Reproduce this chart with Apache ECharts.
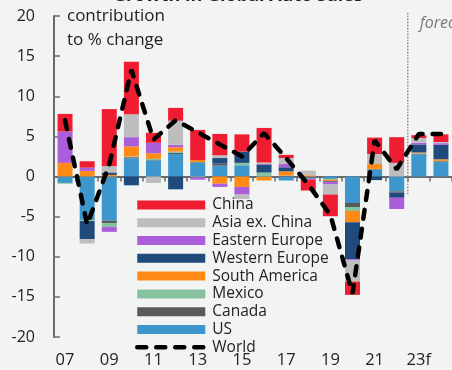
<!DOCTYPE html>
<html>
<head>
<meta charset="utf-8">
<script src="https://cdn.jsdelivr.net/npm/echarts@6/dist/echarts.min.js"></script>
<style>
html,body{margin:0;padding:0;background:#f2f4f3;}
#c{width:452px;height:370px;}
</style>
</head>
<body>
<div id="c"></div>
<script>
const years = ['2007','2008','2009','2010','2011','2012','2013','2014','2015','2016','2017','2018','2019','2020','2021','2022','2023','2024'];
const xLabels = ['07','08','09','10','11','12','13','14','15','16','17','18','19','20','21','22','23f','24f'];
const yTicks = [-20,-15,-10,-5,0,5,10,15,20];

const us      = [-0.8,-5.4,-5.5, 2.25, 2.0, 2.8, 1.75, 1.35, 1.4,-0.05,-0.5,-0.1,-0.3,-3.3, 0.8,-1.85, 2.75, 1.8];
const canada  = [ 0,  -0.05,-0.3, 0.15, 0.05,0.15,0.05, 0.25, 0,   0,   0.05, 0,   0,  -0.5, 0.1,-0.15, 0.1, 0.1];
const mexico  = [-0.1,-0.1,-0.5, 0.1, 0.15, 0.15,-0.1, 0,    0.3, 0.5, 0.05,-0.05,-0.1,-0.5,0.05, 0,   0.05,0.05];
const southAm = [ 1.7, 0.7, 0.2, 1.25, 0.7, 0.55, 0.25,-0.9,-1.3,-0.45, 0.55, 0.15,-0.2,-1.4, 0.6, 0,   0.1, 0.2];
const westEu  = [ 0,  -2.25,0.3,-1.1, 0,  -1.6, 0,    0.7, 1.4, 1.0, 0.5,-0.1,-0.1,-4.6,-0.45,-0.65,1.0, 1.8];
const eastEu  = [ 3.9, 0.4,-0.6, 1.15,1.3, 0.3,-0.3,-0.4,-0.95,0.05,0.4,-0.15,-0.3,-0.15,0,  -1.4, 0.2, 0.2];
const asiaExC = [ 0,  -0.55,0.8, 2.85,-0.8,3.0, 0,    0.35,-0.55,0.2,0.75, 0.6,-1.25,-2.65,1.25,1.7, 0.6, 0.15];
const china   = [ 2.2, 0.8, 7.1, 6.55,1.25,1.6, 3.75, 2.65, 2.15,4.3, 0.4,-1.35,-2.7,-1.65, 2.05,3.2, 0.35,0.95];
const world   = [ 7.0,-6.0, 1.5,13.3, 4.6, 7.0, 5.5, 4.0, 2.5, 5.4, 2.3,-1.0,-4.8,-14.6, 4.5, 0.9, 5.3, 5.3];

const FONT = 'Open Sans';
const stackSeries = [
  ['US', us, '#3d97cd'],
  ['Canada', canada, '#5a5a5a'],
  ['Mexico', mexico, '#86c29e'],
  ['South America', southAm, '#ff8a16'],
  ['Western Europe', westEu, '#1f4a7c'],
  ['Eastern Europe', eastEu, '#ab5ddc'],
  ['Asia ex. China', asiaExC, '#bdbdbd'],
  ['China', china, '#ee1d31']
];
const worldLine = {width: 4.5, type: [9, 10], cap: 'round', color: '#000'};

const chart = echarts.init(document.getElementById('c'), null, {renderer: 'canvas'});
const series = stackSeries.map(([name, data, color]) => ({
  name, type: 'bar', stack: 'total', data, barWidth: 15,
  itemStyle: {color}, xAxisIndex: 0, yAxisIndex: 0
}));
series.push({
  name: 'World', type: 'line', data: world, symbol: 'none', z: 5,
  lineStyle: worldLine, itemStyle: {color: '#000'}
});

chart.setOption({
  backgroundColor: '#f2f4f3',
  animation: false,
  textStyle: {fontFamily: FONT},
  title: {
    text: 'Growth in Global Auto Sales', left: 108, top: -18,
    textStyle: {fontFamily: FONT, fontSize: 18, fontWeight: 'bold', color: '#222'}
  },
  grid: {left: 54, right: -2, top: 16, bottom: 33, containLabel: false},
  legend: {
    orient: 'vertical', left: 135, top: 196, padding: 0, itemGap: 0,
    itemWidth: 68, itemHeight: 9,
    textStyle: {fontFamily: FONT, fontSize: 15.5, color: '#222', lineHeight: 17.8, padding: [0,0,0,2]},
    data: [
      {name: 'China', icon: 'rect'},
      {name: 'Asia ex. China', icon: 'rect'},
      {name: 'Eastern Europe', icon: 'rect'},
      {name: 'Western Europe', icon: 'rect'},
      {name: 'South America', icon: 'rect'},
      {name: 'Mexico', icon: 'rect'},
      {name: 'Canada', icon: 'rect'},
      {name: 'US', icon: 'rect'},
      {name: 'World', lineStyle: worldLine,
       itemStyle: {color: 'rgba(0,0,0,0)', opacity: 0, borderWidth: 0}}
    ]
  },
  xAxis: [
    {
      type: 'category', data: years, position: 'bottom',
      axisLine: {onZero: true, lineStyle: {color: '#6b6b6b', width: 2}},
      axisTick: {show: true, interval: 0, length: 5, lineStyle: {color: '#6b6b6b', width: 1.5}},
      axisLabel: {show: false}
    },
    {
      type: 'category', data: xLabels, position: 'bottom',
      axisLine: {show: false, onZero: false}, axisTick: {show: false},
      axisLabel: {interval: 1, margin: 15, fontFamily: FONT, fontSize: 16.5, color: '#222'}
    }
  ],
  yAxis: {
    type: 'value', min: yTicks[0], max: yTicks[yTicks.length - 1], interval: 5,
    splitLine: {show: false},
    axisLine: {show: true, lineStyle: {color: '#6b6b6b', width: 2}},
    axisTick: {show: true, inside: true, length: 6, lineStyle: {color: '#6b6b6b', width: 1.5}},
    axisLabel: {margin: 19, fontFamily: FONT, fontSize: 16, color: '#222'}
  },
  series
});

// forecast divider and annotation, positioned through the axes
const c22 = chart.convertToPixel({xAxisIndex: 0}, '2022');
const c23 = chart.convertToPixel({xAxisIndex: 0}, '2023');
const xDiv = (c22 + c23) / 2;
const yTop = chart.convertToPixel({yAxisIndex: 0}, 20.4);
const yBot = chart.convertToPixel({yAxisIndex: 0}, -2.3);
chart.setOption({
  graphic: [
    {type: 'line', shape: {x1: xDiv, y1: yTop, x2: xDiv, y2: yBot}, z: 1,
     style: {stroke: '#8a8a8a', lineWidth: 1.5, lineDash: [1.5, 1.5]}},
    {type: 'text', x: xDiv + 12, y: 23, z: 10,
     style: {text: 'forecast', fontFamily: FONT, fontSize: 16, fontStyle: 'italic', fill: '#777', verticalAlign: 'middle'}},
    {type: 'text', x: 67, y: 4, z: 10,
     style: {text: 'contribution\nto % change', fontFamily: FONT, fontSize: 17, lineHeight: 24, fill: '#222'}}
  ]
});
</script>
</body>
</html>
